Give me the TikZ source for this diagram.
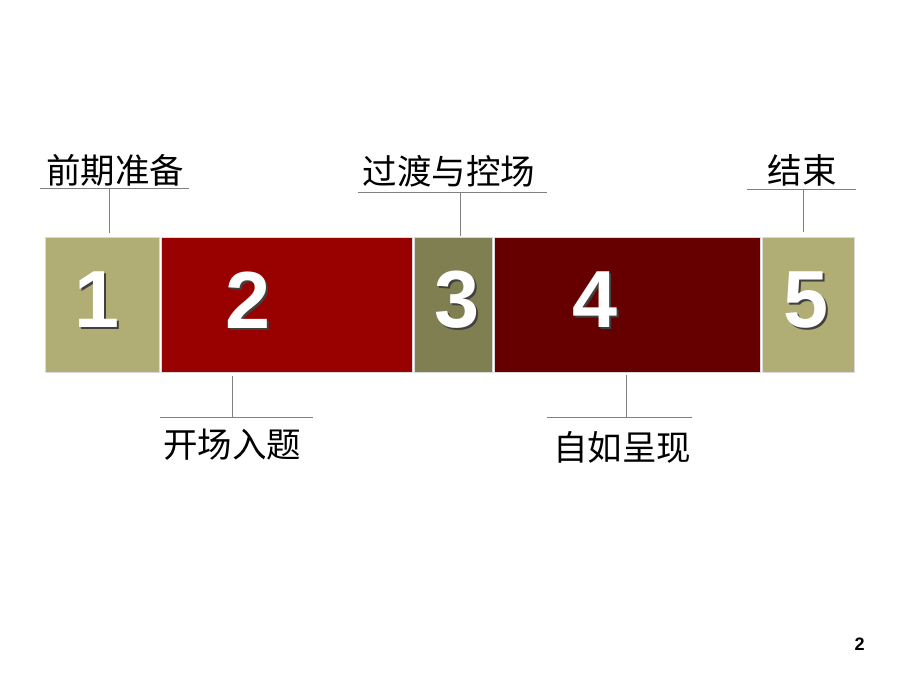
\documentclass[tikz,border=0pt]{standalone}
\usepackage{fontspec}
\setmainfont{Liberation Sans}
\newfontfamily\cjk{Noto Sans CJK SC}
\usepackage{xcolor}
\usepackage{tikz}
\definecolor{khaki}{HTML}{B0AE74}
\definecolor{olivegray}{HTML}{7F7F52}
\definecolor{darkred}{HTML}{990000}
\definecolor{deepred}{HTML}{660000}

\begin{document}
\begin{tikzpicture}[x=1pt,y=-1pt,
  blk/.style={draw=white!85!black, line width=0.8pt, minimum height=135pt, inner sep=0pt},
  dig/.style={text=white, font=\bfseries\fontsize{81}{81}\selectfont, inner sep=0pt},
  digsh/.style={text=black!75, font=\bfseries\fontsize{81}{81}\selectfont, inner sep=0pt},
  lbl/.style={font=\cjk\fontsize{34.5}{34.5}\selectfont, inner sep=0pt},
  leader/.style={draw=black!50, line width=1pt}]
	\useasboundingbox[fill=white] (0,0) rectangle (920,690);
	\node[blk, fill=khaki, minimum width=113.5pt] (b1) at (102.3,305) {};
	\node[blk, fill=darkred, minimum width=251.5pt] (b2) at (286.8,305) {};
	\node[blk, fill=olivegray, minimum width=77.8pt] (b3) at (453.4,305) {};
	\node[blk, fill=deepred, minimum width=266pt] (b4) at (627.5,305) {};
	\node[blk, fill=khaki, minimum width=92pt] (b5) at (808.5,305) {};
	\foreach \d/\x in {1/97,2/248,3/457,4/595,5/806}{
		\node[digsh] at (\x+2,302) {\d};
		\node[dig] (n\d) at (\x,300) {\d};
	}
	\node[lbl] (l1) at (115,170) {前期准备};
	\node[lbl] (l2) at (232,445) {开场入题};
	\node[lbl] (l3) at (449,171) {过渡与控场};
	\node[lbl] (l4) at (622,447) {自如呈现};
	\node[lbl] (l5) at (802,170) {结束};
	\coordinate (u1) at (109.7,188);
	\coordinate (u2) at (232.7,417.5);
	\coordinate (u3) at (460,192.3);
	\coordinate (u4) at (626.7,417);
	\coordinate (u5) at (803.7,189);
	\draw[leader] (40,188) -- (189,188);
	\draw[leader] (160,417.5) -- (312.7,417.5);
	\draw[leader] (358,192.3) -- (546.7,192.3);
	\draw[leader] (547,417) -- (691.7,417);
	\draw[leader] (747,189) -- (855.7,189);
	\draw[leader] (u1) -- ([yshift=4.5pt]u1 |- b1.north);
	\draw[leader] (u2) -- ([yshift=-3.5pt]u2 |- b2.south);
	\draw[leader] (u3) -- ([yshift=1.5pt]u3 |- b3.north);
	\draw[leader] (u4) -- ([yshift=-2.5pt]u4 |- b4.south);
	\draw[leader] (u5) -- ([yshift=5.5pt]u5 |- b5.north);
	\node[font=\bfseries\fontsize{18}{18}\selectfont, inner sep=0pt] (pg) at (859.5,644) {2};
\end{tikzpicture}
\end{document}
